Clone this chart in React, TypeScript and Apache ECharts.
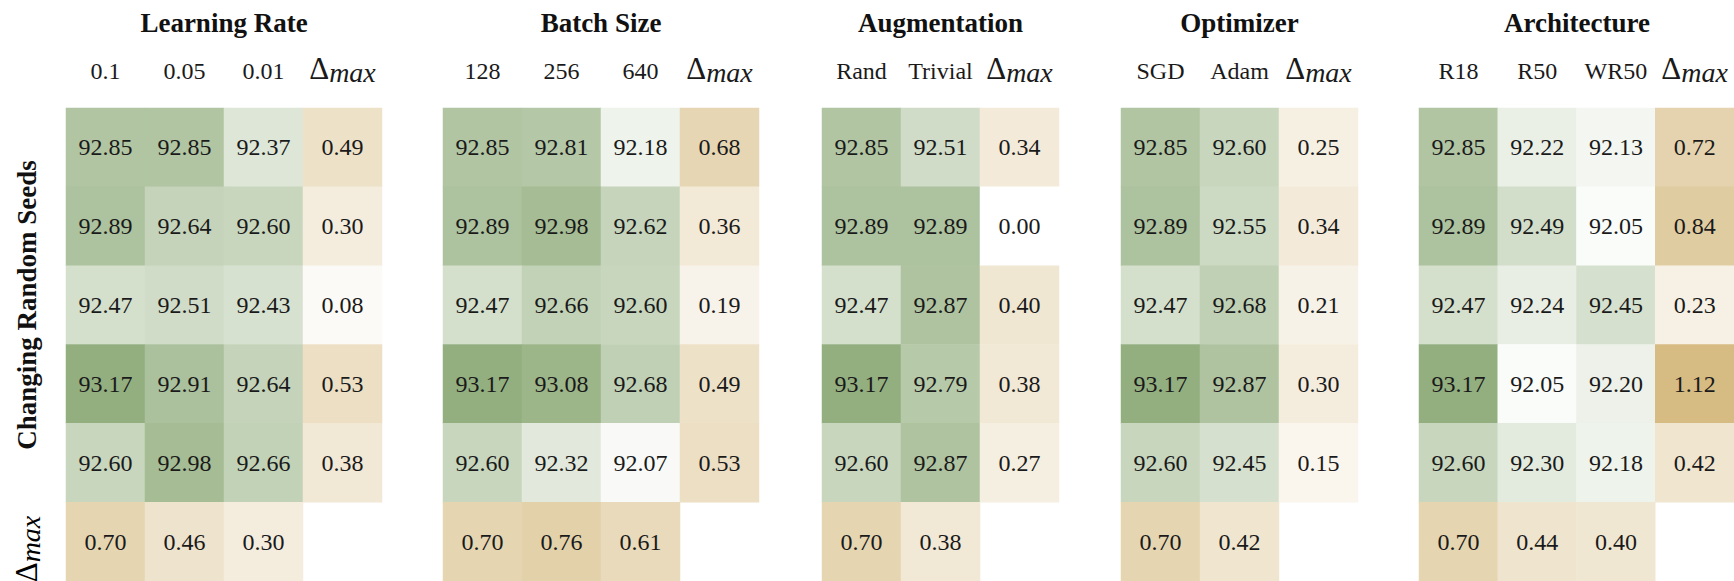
import React, { useEffect, useRef } from "react";
import * as echarts from "echarts";

// ---------- Data ----------
const lrCols = ["0.1", "0.05", "0.01"];
const lrAcc = [
  [92.85, 92.85, 92.37],
  [92.89, 92.64, 92.6],
  [92.47, 92.51, 92.43],
  [93.17, 92.91, 92.64],
  [92.6, 92.98, 92.66],
];
const lrDeltaCol = [0.49, 0.3, 0.08, 0.53, 0.38];
const lrDeltaRow = [0.7, 0.46, 0.3];

const bsCols = ["128", "256", "640"];
const bsAcc = [
  [92.85, 92.81, 92.18],
  [92.89, 92.98, 92.62],
  [92.47, 92.66, 92.6],
  [93.17, 93.08, 92.68],
  [92.6, 92.32, 92.07],
];
const bsDeltaCol = [0.68, 0.36, 0.19, 0.49, 0.53];
const bsDeltaRow = [0.7, 0.76, 0.61];

const augCols = ["Rand", "Trivial"];
const augAcc = [
  [92.85, 92.51],
  [92.89, 92.89],
  [92.47, 92.87],
  [93.17, 92.79],
  [92.6, 92.87],
];
const augDeltaCol = [0.34, 0.0, 0.4, 0.38, 0.27];
const augDeltaRow = [0.7, 0.38];

const optCols = ["SGD", "Adam"];
const optAcc = [
  [92.85, 92.6],
  [92.89, 92.55],
  [92.47, 92.68],
  [93.17, 92.87],
  [92.6, 92.45],
];
const optDeltaCol = [0.25, 0.34, 0.21, 0.3, 0.15];
const optDeltaRow = [0.7, 0.42];

const archCols = ["R18", "R50", "WR50"];
const archAcc = [
  [92.85, 92.22, 92.13],
  [92.89, 92.49, 92.05],
  [92.47, 92.24, 92.45],
  [93.17, 92.05, 92.2],
  [92.6, 92.3, 92.18],
];
const archDeltaCol = [0.72, 0.84, 0.23, 1.12, 0.42];
const archDeltaRow = [0.7, 0.44, 0.4];

const panelTitles = ["Learning Rate", "Batch Size", "Augmentation", "Optimizer", "Architecture"];
const rowCategories = ["s1", "s2", "s3", "s4", "s5", "dmax"];
const DELTA = "Δmax";
const sideLabel = "Changing Random Seeds";

// ---------- Layout / style ----------
const panelLefts = [66, 443, 822, 1121, 1419];
const CELL_W = 79;
const GRID_TOP = 108;
const GRID_H = 473;
const SERIF = "Liberation Serif";

const panels = [
  { title: panelTitles[0], cols: lrCols, acc: lrAcc, dcol: lrDeltaCol, drow: lrDeltaRow },
  { title: panelTitles[1], cols: bsCols, acc: bsAcc, dcol: bsDeltaCol, drow: bsDeltaRow },
  { title: panelTitles[2], cols: augCols, acc: augAcc, dcol: augDeltaCol, drow: augDeltaRow },
  { title: panelTitles[3], cols: optCols, acc: optAcc, dcol: optDeltaCol, drow: optDeltaRow },
  { title: panelTitles[4], cols: archCols, acc: archAcc, dcol: archDeltaCol, drow: archDeltaRow },
];

const deltaRich = {
  n: { fontSize: 24, fontFamily: SERIF, color: "#1a1a1a", lineHeight: 40 },
  d: { fontSize: 31, fontFamily: SERIF, color: "#1a1a1a", lineHeight: 40, padding: [0, 0, 6, 0] },
  s: { fontSize: 28, fontFamily: SERIF, fontStyle: "italic", color: "#1a1a1a", lineHeight: 40, padding: [3, 0, 0, 0] },
};

export default function App() {
  const ref = useRef<HTMLDivElement>(null);

  useEffect(() => {
    if (!ref.current) return;
    const chart = echarts.init(ref.current, undefined, { renderer: "svg" });

    const grid: any[] = [];
    const xAxis: any[] = [];
    const yAxis: any[] = [];
    const series: any[] = [];
    const accIdx: number[] = [];
    const dIdx: number[] = [];
    const graphic: any[] = [];

    const labelStyle = {
      show: true,
      formatter: (p: any) => Number(p.value[2]).toFixed(2),
      fontSize: 24,
      fontFamily: SERIF,
      color: "#1a1a1a",
    };

    panels.forEach((p, i) => {
      const n = p.cols.length;
      const left = panelLefts[i];
      const width = (n + 1) * CELL_W;
      grid.push({ left, top: GRID_TOP, width, height: GRID_H });
      xAxis.push({
        type: "category",
        gridIndex: i,
        position: "top",
        data: [...p.cols, DELTA],
        axisLine: { show: false },
        axisTick: { show: false },
        splitLine: { show: false },
        axisLabel: {
          interval: 0,
          margin: 17,
          formatter: (v: string) => (v === DELTA ? "{d|Δ}{s|max}" : "{n|" + v + "}"),
          rich: deltaRich,
        },
      });
      yAxis.push({
        type: "category",
        gridIndex: i,
        inverse: true,
        data: rowCategories,
        axisLine: { show: false },
        axisTick: { show: false },
        axisLabel: { show: false },
        splitLine: { show: false },
      });

      const accData: any[] = [];
      p.acc.forEach((row, r) => row.forEach((v, c) => accData.push([c, r, v])));
      const dData: any[] = [];
      p.dcol.forEach((v, r) => dData.push([n, r, v]));
      p.drow.forEach((v, c) => dData.push([c, 5, v]));

      accIdx.push(series.length);
      series.push({
        type: "heatmap",
        xAxisIndex: i,
        yAxisIndex: i,
        data: accData,
        label: labelStyle,
        itemStyle: { borderWidth: 0 },
        emphasis: { disabled: true },
      });
      dIdx.push(series.length);
      series.push({
        type: "heatmap",
        xAxisIndex: i,
        yAxisIndex: i,
        data: dData,
        label: labelStyle,
        itemStyle: { borderWidth: 0 },
        emphasis: { disabled: true },
      });

      graphic.push({
        type: "text",
        x: left + width / 2,
        y: 23,
        style: {
          text: p.title,
          align: "center",
          verticalAlign: "middle",
          textAlign: "center",
          textVerticalAlign: "middle",
          fontSize: 27,
          fontWeight: "bold",
          fontFamily: SERIF,
          fill: "#111",
        },
      });
    });

    graphic.push({
      type: "text",
      x: 27,
      y: 305,
      rotation: Math.PI / 2,
      style: {
        text: sideLabel,
        align: "center",
        verticalAlign: "middle",
        textAlign: "center",
        textVerticalAlign: "middle",
        fontSize: 27,
        fontWeight: "bold",
        fontFamily: SERIF,
        fill: "#111",
      },
    });
    graphic.push({
      type: "text",
      x: 29,
      y: 549,
      rotation: Math.PI / 2,
      style: {
        text: "{d|Δ}{s|max}",
        rich: deltaRich,
        align: "center",
        verticalAlign: "middle",
        textAlign: "center",
        textVerticalAlign: "middle",
      },
    });

    chart.setOption({
      animation: false,
      backgroundColor: "#ffffff",
      grid,
      xAxis,
      yAxis,
      visualMap: [
        {
          type: "continuous",
          show: false,
          min: 92.0,
          max: 93.25,
          dimension: 2,
          seriesIndex: accIdx,
          inRange: { color: ["#ffffff", "#8ca977"] },
        },
        {
          type: "continuous",
          show: false,
          min: 0,
          max: 1.12,
          dimension: 2,
          seriesIndex: dIdx,
          inRange: { color: ["#ffffff", "#d6bb82"] },
        },
      ],
      series,
      graphic,
    });

    return () => chart.dispose();
  }, []);

  return (
    <div
      ref={ref}
      style={{ position: "fixed", left: 0, top: 0, width: 1734, height: 581, background: "#fff" }}
    />
  );
}
